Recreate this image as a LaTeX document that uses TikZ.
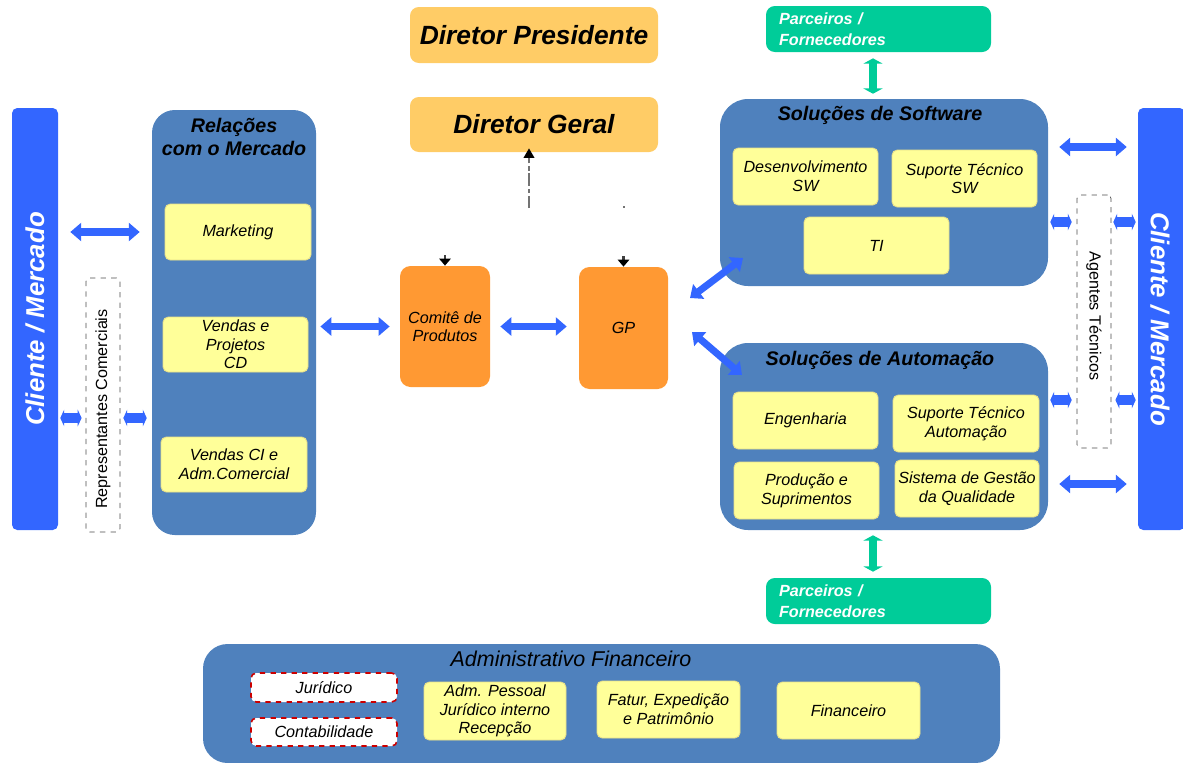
\documentclass[tikz,border=0pt]{standalone}
\usepackage{fontspec}
\setmainfont{Liberation Sans}
\usetikzlibrary{arrows.meta}

\definecolor{panelblue}{HTML}{4F81BD}
\definecolor{paleyellow}{HTML}{FFFF99}
\definecolor{yellowedge}{HTML}{E8E08A}
\definecolor{deeporange}{HTML}{FF9933}
\definecolor{softorange}{HTML}{FFCC66}
\definecolor{brightblue}{HTML}{3366FF}
\definecolor{partnerteal}{HTML}{00CC99}

% box given by pixel corners: style, x1, y1, x2, y2, name
\newcommand\pxbox[6]{\node[#1, minimum width={(#4-#2)*0.02cm}, minimum height={(#5-#3)*0.02cm}] (#6) at ({(#2+#4)/2},{(#3+#5)/2})}

\tikzset{
  panel/.style={fill=panelblue, rounded corners=14pt, inner sep=0pt},
  panelhead/.style={font=\bfseries\itshape\fontsize{11.2}{13.5}\selectfont, align=center, inner sep=0pt},
  unit/.style={fill=paleyellow, draw=yellowedge, line width=0.5pt, rounded corners=3pt, inner sep=1pt,
    align=center, font=\itshape\fontsize{9.2}{10.6}\selectfont},
  council/.style={fill=deeporange, rounded corners=6pt, inner sep=1pt, align=center,
    font=\itshape\fontsize{9.2}{10.6}\selectfont},
  director/.style={fill=softorange, rounded corners=5pt, inner sep=0pt,
    font=\bfseries\itshape\fontsize{15}{18}\selectfont},
  market/.style={fill=brightblue, rounded corners=3pt, inner sep=0pt},
  markettext/.style={text=white, font=\bfseries\itshape\fontsize{14.7}{17}\selectfont, inner sep=0pt},
  agentbox/.style={draw=black!70, dashed, fill=white, rounded corners=2pt, inner sep=0pt},
  agenttext/.style={font=\fontsize{9.2}{11}\selectfont, inner sep=0pt},
  partner/.style={fill=partnerteal, rounded corners=5pt, inner xsep=7.4pt, inner ysep=0pt,
    text width={(225-26)*0.02cm}, align=left, text=white,
    font=\bfseries\itshape\fontsize{9.2}{11.8}\selectfont},
  support/.style={draw=red!80!black, dashed, line width=0.9pt, fill=white, rounded corners=3pt,
    inner sep=1pt, font=\itshape\fontsize{9.2}{10.6}\selectfont},
  flow/.style={draw=brightblue, line width=4pt,
    {Triangle[width=10.2pt,length=6.2pt]}-{Triangle[width=10.2pt,length=6.2pt]}},
  link/.style={draw=brightblue, line width=5.2pt,
    {Triangle[width=9.4pt,length=2.2pt]}-{Triangle[width=9.4pt,length=2.2pt]}},
  supply/.style={draw=partnerteal, line width=5pt,
    {Triangle[width=10.8pt,length=3pt]}-{Triangle[width=10.8pt,length=3pt]}},
  report/.style={draw=black!55, line width=1.3pt, dash pattern=on 7pt off 1.6pt on 2.5pt off 1.6pt,
    -{Triangle[width=6pt,length=5.5pt,color=black]}},
  feed/.style={draw=black!75, line width=1.3pt, -{Triangle[width=6.5pt,length=4pt,color=black]}}
}

\begin{document}
\begin{tikzpicture}[x=0.02cm, y=-0.02cm]
\useasboundingbox (0,0) rectangle (1183,762);

% ---- directors ----
\pxbox{director}{410}{7}{658}{63}{dp} {Diretor Presidente};
\pxbox{director}{410}{97}{658}{152}{dg} {Diretor Geral};

% ---- market columns ----
\pxbox{market}{12}{108}{58}{530}{cliL} {};
\node[markettext, rotate=90] (cliLtext) at (cliL) {Cliente / Mercado};
\pxbox{market}{1138}{108}{1185}{530}{cliR} {};
\node[markettext, rotate=-90] (cliRtext) at (1160,319) {Cliente / Mercado};

\pxbox{agentbox}{86}{278}{120}{532}{rep} {};
\node[agenttext, rotate=90] (reptext) at (103,409) {Representantes Comerciais};
\pxbox{agentbox}{1077}{195}{1111}{448}{agt} {};
\node[agenttext, rotate=-90] (agttext) at (1094,316) {Agentes Técnicos};

% ---- market relations ----
\pxbox{panel, rounded corners=13pt}{152}{110}{316}{535}{rel} {};
\node[panelhead] (relhead) at (234,137) {Relações\\com o Mercado};
\pxbox{unit}{165}{204}{311}{260}{mkt} {Marketing};
\pxbox{unit}{163}{317}{308}{372}{vpc} {Vendas e\\Projetos\\CD};
\pxbox{unit}{161}{437}{307}{492}{vci} {Vendas CI e\\Adm.Comercial};

% ---- committee and GP ----
\pxbox{council}{400}{266}{490}{387}{com} {Comitê de\\Produtos};
\pxbox{council}{579}{267}{668}{389}{gp} {GP};

% ---- software solutions ----
\pxbox{panel, rounded corners=16pt}{720}{99}{1048}{286}{sw} {};
\node[panelhead] (swhead) at (880,115) {Soluções de Software};
\pxbox{unit}{733}{148}{878}{205}{dsw} {Desenvolvimento\\SW};
\pxbox{unit}{892}{150}{1037}{207}{ssw} {Suporte Técnico\\SW};
\pxbox{unit}{804}{217}{949}{274}{ti} {TI};

% ---- automation solutions ----
\pxbox{panel, rounded corners=16pt}{720}{343}{1048}{530}{aut} {};
\node[panelhead] (authead) at (880,360) {Soluções de Automação};
\pxbox{unit}{733}{392}{878}{449}{eng} {Engenharia};
\pxbox{unit}{893}{395}{1039}{452}{sta} {Suporte Técnico\\Automação};
\pxbox{unit}{734}{462}{879}{519}{prs} {Produção e\\Suprimentos};
\pxbox{unit}{895}{460}{1039}{517}{sgq} {Sistema de Gestão\\da Qualidade};

% ---- partners ----
\pxbox{partner}{766}{6}{991}{52}{ptop} {Parceiros /\\Fornecedores};
\pxbox{partner}{766}{578}{991}{624}{pbot} {Parceiros /\\Fornecedores};

% ---- administrative / financial ----
\pxbox{panel, rounded corners=14pt}{203}{644}{1000}{763}{adm} {};
\node[inner sep=0pt, font=\itshape\fontsize{12.2}{14}\selectfont] (admhead) at (571,659) {Administrativo Financeiro};
\pxbox{support}{251}{673}{397}{702}{jur} {Jurídico};
\pxbox{support}{251}{718}{397}{746}{cont} {Contabilidade};
\pxbox{unit}{424}{682}{566}{740}{adp} {Adm. Pessoal\\Jurídico interno\\Recepção};
\pxbox{unit}{597}{681}{740}{738}{fat} {Fatur, Expedição\\e Patrimônio};
\pxbox{unit}{777}{682}{920}{739}{fin} {Financeiro};

% ---- reporting line to the general director ----
\coordinate (rpfoot) at (529,208);
\draw[report, shorten >=-2.3pt] (rpfoot) -- (rpfoot |- dg.south);
\fill[black!55] (623,206) rectangle (625,208);
\draw[feed] ([yshift=6pt]com.north) -- (com.north);
\draw[feed] ([yshift=6pt]gp.north) -- (gp.north);

% ---- blue flows ----
\draw[flow, shorten <=6.8pt, shorten >=6.8pt] (cliL.east |- mkt.center) -- (rel.west |- mkt.center);
\coordinate (lowrow) at (0,418);
\draw[link, shorten <=1.1pt, shorten >=2.3pt] (cliL.east |- lowrow) -- (rep.west |- lowrow);
\draw[link, shorten <=1.7pt, shorten >=2.8pt] (rep.east |- lowrow) -- (rel.west |- lowrow);

\draw[flow, shorten <=2.3pt, shorten >=5.7pt] (rel.east |- com.west) -- (com.west);
\draw[flow, shorten <=5.7pt, shorten >=6.8pt] (com.east) -- (com.east -| gp.west);

\coordinate (gpsw) at (690,298);
\coordinate (swgp) at (743,258);
\coordinate (gpaut) at (692,332);
\coordinate (autgp) at (742,375);
\draw[flow] (gpsw) -- (swgp);
\draw[flow] (gpaut) -- (autgp);

\coordinate (row1) at (0,147);
\coordinate (row2) at (0,222);
\coordinate (row3) at (0,400);
\coordinate (row4) at (0,484);
\draw[flow, shorten <=6.2pt, shorten >=6.2pt] (sw.east |- row1) -- (cliR.west |- row1);
\draw[link, shorten <=1.1pt, shorten >=2.8pt] (sw.east |- row2) -- (agt.west |- row2);
\draw[link, shorten <=1.1pt, shorten >=1.1pt] (agt.east |- row2) -- (cliR.west |- row2);
\draw[link, shorten <=1.1pt, shorten >=2.8pt] (aut.east |- row3) -- (agt.west |- row3);
\draw[link, shorten <=2.3pt, shorten >=1.1pt] (agt.east |- row3) -- (cliR.west |- row3);
\draw[flow, shorten <=6.2pt, shorten >=6.2pt] (aut.east |- row4) -- (cliR.west |- row4);

% ---- partner links ----
\coordinate (tealx) at (873,0);
\draw[supply, shorten <=3.4pt, shorten >=2.8pt] (ptop.south -| tealx) -- (sw.north -| tealx);
\draw[supply, shorten <=2.8pt, shorten >=3.4pt] (aut.south -| tealx) -- (pbot.north -| tealx);
\end{tikzpicture}
\end{document}
